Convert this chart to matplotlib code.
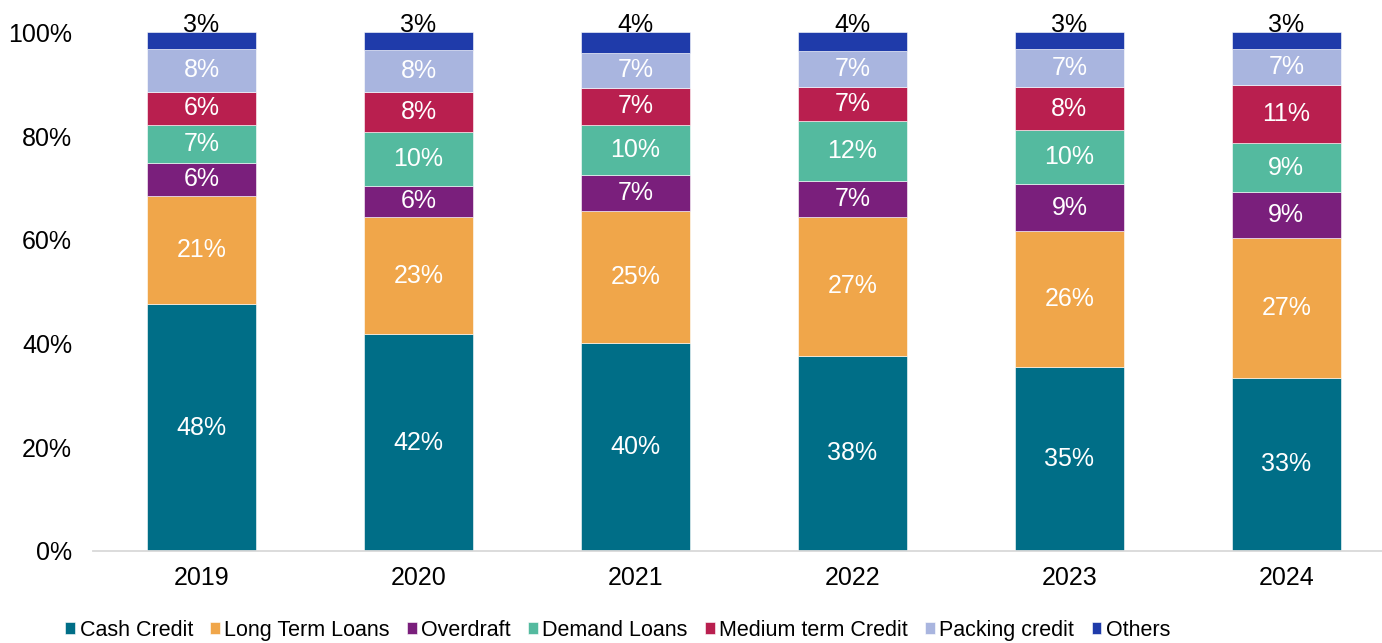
import matplotlib.pyplot as plt
import numpy as np

years = ["2019", "2020", "2021", "2022", "2023", "2024"]
segments = ["Cash Credit", "Long Term Loans", "Overdraft", "Demand Loans",
            "Medium term Credit", "Packing credit", "Others"]
colors = ["#006E87", "#F0A64A", "#7A1F7C", "#54BA9F", "#B91F4F", "#A9B5DF", "#1F3BAA"]

# share of portfolio, % per year
cash_credit = [47.6, 41.8, 40.1, 37.6, 35.4, 33.4]
long_term = [20.9, 22.6, 25.4, 26.8, 26.2, 26.9]
overdraft = [6.3, 6.0, 7.0, 6.9, 9.1, 8.9]
demand_loans = [7.4, 10.4, 9.7, 11.6, 10.4, 9.4]
medium_term = [6.3, 7.7, 7.1, 6.6, 8.3, 11.3]
packing_credit = [8.3, 8.1, 6.7, 6.9, 7.4, 6.9]
others = [3.2, 3.4, 4.0, 3.6, 3.2, 3.2]

series = [cash_credit, long_term, overdraft, demand_loans, medium_term, packing_credit, others]

plt.rcParams["font.family"] = ["Liberation Sans", "DejaVu Sans"]

fig = plt.figure(figsize=(13.82, 6.43), dpi=100)
ax = fig.add_axes([0.0673, 0.1431, 0.942, 0.8067])

x = np.arange(len(years))
bottom = np.zeros(len(years))
for name, vals, col in zip(segments, series, colors):
    vals = np.array(vals)
    ax.bar(x, vals, 0.5, bottom=bottom, color=col, label=name,
           edgecolor="white", linewidth=0.4)
    for xi, b, v in zip(x, bottom, vals):
        if name == "Others":
            ax.text(xi, 101.4, f"{v:.0f}%", ha="center", va="center",
                    fontsize=18, color="black")
        else:
            ax.text(xi, b + v / 2, f"{v:.0f}%", ha="center", va="center",
                    fontsize=18, color="white")
    bottom += vals

ax.set_xlim(-0.5, 5.5)
ax.set_ylim(0, 100)
ax.set_xticks(x)
ax.set_xticklabels(years)
ax.set_yticks(np.arange(0, 101, 20))
ax.set_yticklabels([f"{t}%" for t in range(0, 101, 20)])
ax.tick_params(axis="y", length=0, pad=15, labelsize=18)
ax.tick_params(axis="x", length=0, pad=11, labelsize=18)
for s in ["top", "right", "left"]:
    ax.spines[s].set_visible(False)
ax.spines["bottom"].set_color("#D9D9D9")
ax.spines["bottom"].set_linewidth(1.3)

fig.legend(loc="center", bbox_to_anchor=(0.447, 0.02), ncol=7, frameon=False,
           prop={"size": 15.5},
           handlelength=0.46, handleheight=0.46, handletextpad=0.2,
           columnspacing=0.8, borderaxespad=0)

fig.savefig("out.png", dpi=100)
